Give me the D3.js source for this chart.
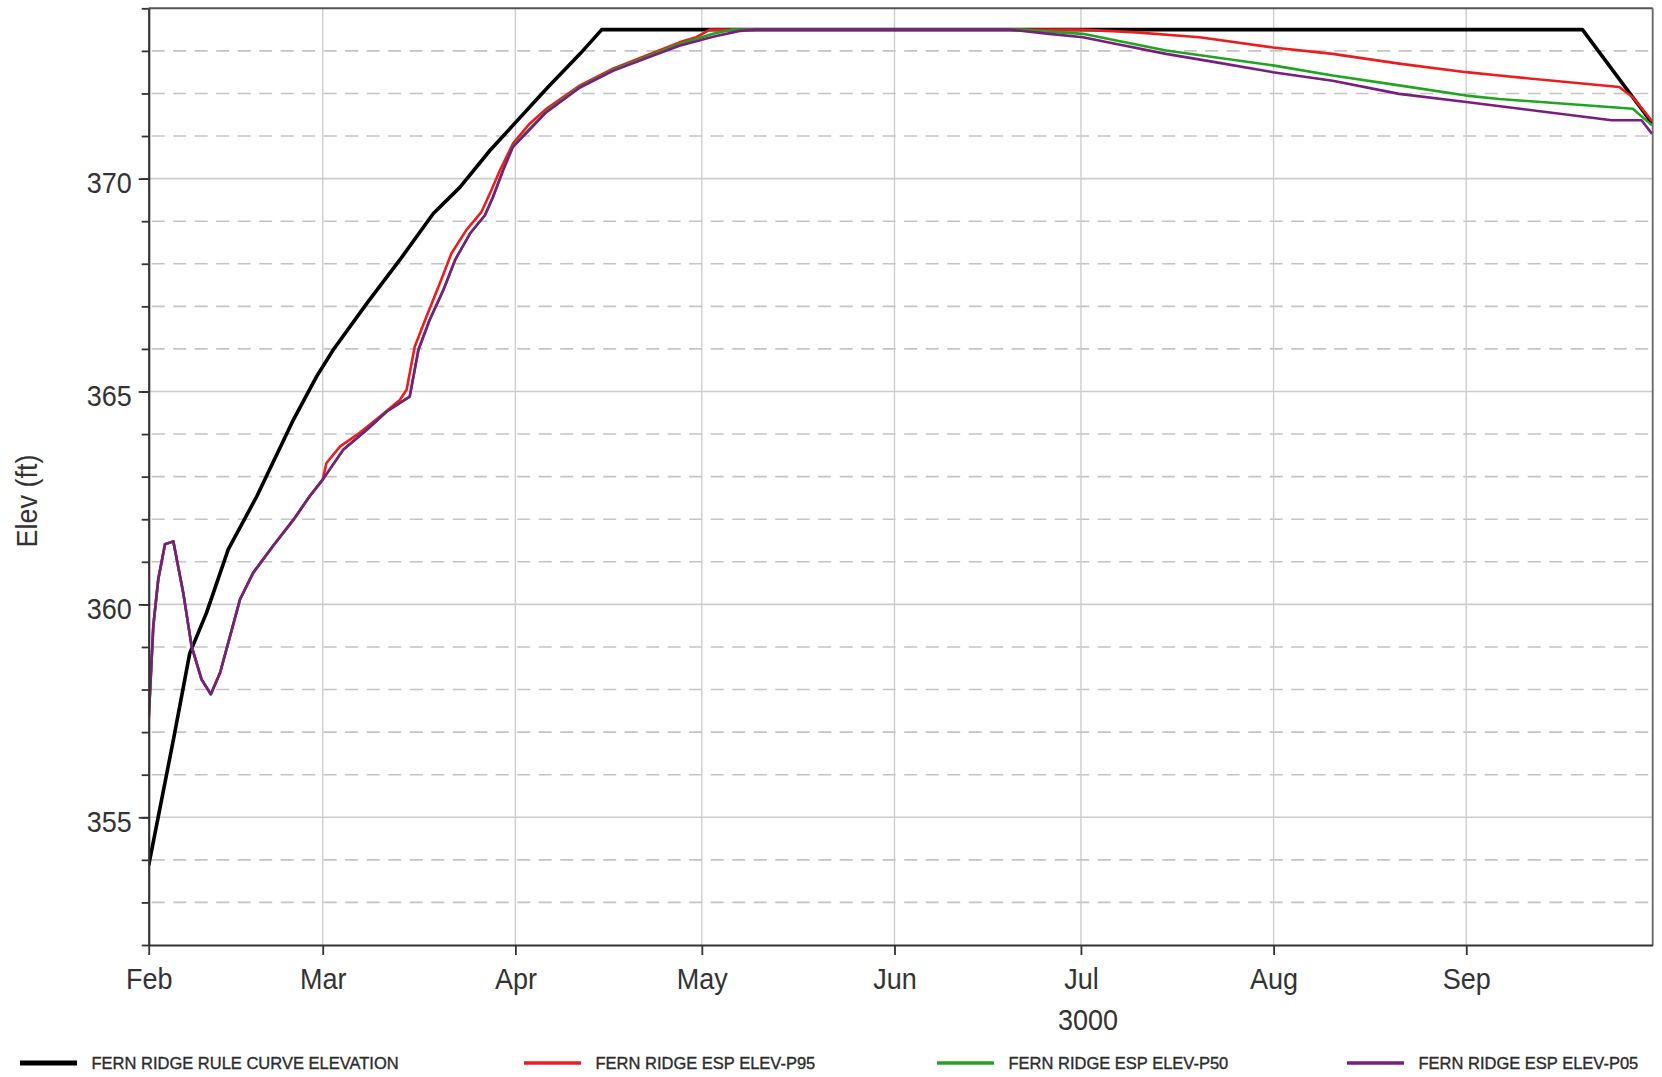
<!DOCTYPE html>
<html>
<head>
<meta charset="utf-8">
<title>Fern Ridge elevation</title>
<script src="https://cdn.jsdelivr.net/npm/d3@7"></script>
<style>
  html, body { margin: 0; padding: 0; background: #fff; }
  svg { display: block; font-family: "Liberation Sans", Arial, sans-serif; }
</style>
</head>
<body>
<svg id="chart" width="1662" height="1077"></svg>
<script>
// ---- Data: days since Feb 1, 3000 and elevation (ft) ----
const seriesNames = [
  "FERN RIDGE RULE CURVE ELEVATION",
  "FERN RIDGE ESP ELEV-P95",
  "FERN RIDGE ESP ELEV-P50",
  "FERN RIDGE ESP ELEV-P05"
];
const seriesColors = ["#000000", "#ee1c1c", "#1fa51f", "#7a1c80"];
const monthLabels = ["Feb", "Mar", "Apr", "May", "Jun", "Jul", "Aug", "Sep"];
const elevTickLabels = [355, 360, 365, 370];
const yearLabel = "3000";
const yTitle = "Elev (ft)";

const ruleDay  = [0, 4, 6.6, 9.3, 12.8, 17.4, 23.3, 27, 29.7, 35.1, 40.4, 45.8, 50.1, 54.9, 58.6, 64, 69.4, 72.9, 230.7, 241.9];
const ruleElev = [353.87, 356.84, 358.85, 359.8, 361.29, 362.54, 364.34, 365.35, 365.98, 367.07, 368.09, 369.18, 369.8, 370.66, 371.25, 372.11, 372.93, 373.5, 373.5, 371.3];

const p95Day  = [0, 0.74, 1.54, 2.62, 3.96, 5.56, 6.9, 8.5, 10.0, 11.5, 13.1, 14.7, 16.8, 20.0, 23.3, 25.9, 28.0, 28.6, 30.8, 33.5, 37.2, 40.4, 41.5, 42.8, 44.7, 46.85, 48.7, 51.1, 53.55, 54.9, 56.5, 58.6, 61.3, 64, 69.4, 74.7, 80.1, 85.4, 88.1, 90.3, 150, 158.3, 169.1, 180.9, 190.5, 201.2, 212, 217.3, 236.6, 238.8, 241.9];
const p95Elev = [357.31, 359.49, 360.59, 361.41, 361.48, 360.27, 359.02, 358.24, 357.89, 358.4, 359.26, 360.12, 360.74, 361.37, 361.99, 362.54, 362.93, 363.32, 363.71, 363.98, 364.41, 364.8, 365.04, 366.05, 366.76, 367.54, 368.24, 368.79, 369.22, 369.65, 370.19, 370.82, 371.29, 371.64, 372.19, 372.58, 372.89, 373.2, 373.32, 373.5, 373.5, 373.44, 373.32, 373.08, 372.93, 372.7, 372.5, 372.42, 372.15, 371.91, 371.35];

const p50Day  = [0, 0.74, 1.54, 2.62, 3.96, 5.56, 6.9, 8.5, 10.0, 11.5, 13.1, 14.7, 16.8, 20.0, 23.3, 25.9, 28.0, 31.3, 35.1, 38.3, 42.0, 43.4, 45.2, 47.4, 49.3, 51.7, 54.1, 55.4, 57.0, 58.6, 64, 69.4, 74.7, 80.1, 85.4, 90.8, 94, 140, 150.3, 163.7, 180.9, 190.5, 201.2, 212, 217.3, 238.8, 241.9];
const p50Elev = [357.31, 359.49, 360.59, 361.41, 361.48, 360.27, 359.02, 358.24, 357.89, 358.4, 359.26, 360.12, 360.74, 361.37, 361.99, 362.54, 362.93, 363.63, 364.1, 364.53, 364.88, 365.98, 366.68, 367.38, 368.09, 368.71, 369.14, 369.57, 370.19, 370.76, 371.58, 372.16, 372.55, 372.86, 373.16, 373.4, 373.5, 373.5, 373.4, 373.01, 372.66, 372.42, 372.19, 371.95, 371.87, 371.64, 371.25];

const p05Day  = [0, 0.74, 1.54, 2.62, 3.96, 5.56, 6.9, 8.5, 10.0, 11.5, 13.1, 14.7, 16.8, 20.0, 23.3, 25.9, 28.0, 31.3, 35.1, 38.3, 42.0, 43.4, 45.2, 47.4, 49.3, 51.7, 54.1, 55.4, 57.0, 58.6, 64, 69.4, 74.7, 80.1, 85.4, 90.8, 95.1, 97.8, 138.5, 144.9, 150.3, 155.7, 163.7, 171.8, 180.9, 190.5, 201.2, 212, 235.4, 240.2, 241.9];
const p05Elev = [357.31, 359.49, 360.59, 361.41, 361.48, 360.27, 359.02, 358.24, 357.89, 358.4, 359.26, 360.12, 360.74, 361.37, 361.99, 362.54, 362.93, 363.63, 364.1, 364.53, 364.88, 365.98, 366.68, 367.38, 368.09, 368.71, 369.14, 369.57, 370.19, 370.74, 371.56, 372.14, 372.53, 372.83, 373.12, 373.33, 373.47, 373.5, 373.5, 373.4, 373.32, 373.16, 372.93, 372.73, 372.5, 372.3, 371.99, 371.8, 371.37, 371.37, 371.05];

const seriesDays  = [ruleDay, p95Day, p50Day, p05Day];
const seriesElevs = [ruleElev, p95Elev, p50Elev, p05Elev];

// ---- Layout ----
const plot = { left: 148.7, right: 1652.7, top: 8.3, bottom: 945 };
const seasonStart = new Date(3000, 1, 1);
const seasonEnd = new Date(3000, 9, 1);
const dayToDate = d => new Date(seasonStart.getTime() + d * 864e5);

const x = d3.scaleTime().domain([seasonStart, seasonEnd]).range([plot.left, plot.right]);
const y = d3.scaleLinear().domain([352, 374]).range([plot.bottom, plot.top]);

const svg = d3.select("#chart");
const textColor = "#333";

// squeeze axis lettering horizontally (narrow face)
function squeeze(sel, k) {
  sel.each(function () {
    const w = this.getComputedTextLength();
    this.setAttribute("textLength", w * k);
    this.setAttribute("lengthAdjust", "spacingAndGlyphs");
  });
}

// ---- Grid ----
const grid = svg.append("g");
grid.selectAll("line.h").data(d3.range(353, 374)).join("line")
  .attr("x1", plot.left).attr("x2", plot.right)
  .attr("y1", d => y(d)).attr("y2", d => y(d))
  .attr("stroke", d => d % 5 === 0 ? "#cccccc" : "#c4c4c4")
  .attr("stroke-width", 1.6)
  .attr("stroke-dasharray", d => d % 5 === 0 ? null : "13,8.5")
  .attr("stroke-dashoffset", -3);

const monthTicks = d3.timeMonth.range(seasonStart, seasonEnd);
grid.selectAll("line.v").data(monthTicks.slice(1)).join("line")
  .attr("x1", d => x(d)).attr("x2", d => x(d))
  .attr("y1", plot.top).attr("y2", plot.bottom)
  .attr("stroke", "#cdcdcd").attr("stroke-width", 1.4);

// ---- Series lines ----
svg.append("clipPath").attr("id", "plotClip").append("rect")
  .attr("x", plot.left).attr("y", plot.top)
  .attr("width", plot.right - plot.left).attr("height", plot.bottom - plot.top);

const line = d3.line().x(d => x(dayToDate(d[0]))).y(d => y(d[1]));
const lines = svg.append("g").attr("clip-path", "url(#plotClip)");
seriesNames.forEach((name, i) => {
  const pts = seriesDays[i].map((d, j) => [d, seriesElevs[i][j]]);
  lines.append("path").datum(pts)
    .attr("d", line)
    .attr("fill", "none")
    .attr("stroke", seriesColors[i])
    .attr("stroke-width", i === 0 ? 3.6 : 2.6)
    .attr("stroke-linejoin", "round");
});

// ---- Frame ----
svg.append("line").attr("x1", plot.left).attr("x2", plot.right)
  .attr("y1", plot.top).attr("y2", plot.top)
  .attr("stroke", "#555").attr("stroke-width", 2);
svg.append("line").attr("x1", plot.right).attr("x2", plot.right)
  .attr("y1", plot.top).attr("y2", plot.bottom)
  .attr("stroke", "#666").attr("stroke-width", 1.8);

// ---- Axes ----
const xAxis = d3.axisBottom(x)
  .tickValues(monthTicks)
  .tickFormat((d, i) => monthLabels[i])
  .tickSizeInner(10).tickSizeOuter(0).tickPadding(13);
const gx = svg.append("g").attr("transform", `translate(0,${plot.bottom})`).call(xAxis);
gx.select(".domain").attr("stroke", "#333").attr("stroke-width", 2.2);
gx.selectAll(".tick line").attr("stroke", "#333").attr("stroke-width", 1.8);
gx.selectAll(".tick text").attr("font-size", 30).attr("fill", textColor)
  .attr("font-family", "'Liberation Sans', Arial, sans-serif").call(squeeze, 0.9);

const yMinor = d3.axisLeft(y).tickValues(d3.range(352, 375)).tickSize(7).tickFormat("");
const gyMinor = svg.append("g").attr("transform", `translate(${plot.left},0)`).call(yMinor);
gyMinor.select(".domain").remove();
gyMinor.selectAll(".tick line").attr("stroke", "#333").attr("stroke-width", 1.8);

const yAxis = d3.axisLeft(y).tickValues(elevTickLabels).tickSizeInner(10).tickSizeOuter(0).tickPadding(7);
const gy = svg.append("g").attr("transform", `translate(${plot.left},0)`).call(yAxis);
gy.select(".domain").attr("stroke", "#333").attr("stroke-width", 2.2);
gy.selectAll(".tick line").attr("stroke", "#333").attr("stroke-width", 1.8);
gy.selectAll(".tick text").attr("font-size", 30).attr("fill", textColor).attr("dy", "0.47em")
  .attr("font-family", "'Liberation Sans', Arial, sans-serif").call(squeeze, 0.9);

// ---- Axis titles ----
svg.append("text").attr("x", 1088).attr("y", 1030)
  .attr("text-anchor", "middle").attr("font-size", 30).attr("fill", textColor)
  .text(yearLabel).call(squeeze, 0.9);
svg.append("text").attr("transform", "translate(37,501) rotate(-90)")
  .attr("text-anchor", "middle").attr("font-size", 30).attr("fill", textColor)
  .text(yTitle).call(squeeze, 0.9);

// ---- Legend ----
const legendX = [20, 524, 937, 1347];
const legend = svg.append("g");
seriesNames.forEach((name, i) => {
  const item = legend.append("g").attr("transform", `translate(${legendX[i]},1063)`);
  item.append("line").attr("x1", 0).attr("x2", 57).attr("y1", 0).attr("y2", 0)
    .attr("stroke", seriesColors[i]).attr("stroke-width", i === 0 ? 5 : 3.6);
  item.append("text").attr("x", 71.5).attr("y", 6.3)
    .attr("font-size", 16.5).attr("fill", "#2b2b2b")
    .attr("stroke", "#2b2b2b").attr("stroke-width", 0.35)
    .text(name);
});
</script>
</body>
</html>
